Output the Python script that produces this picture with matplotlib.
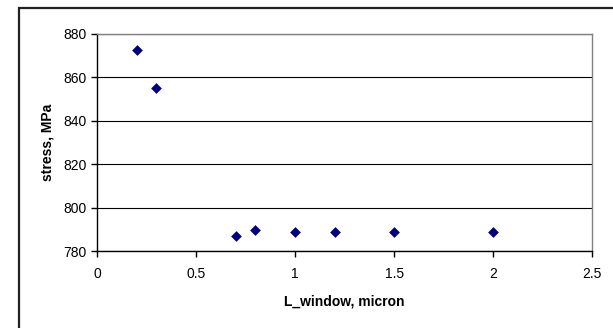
import matplotlib
matplotlib.use("Agg")
import matplotlib.pyplot as plt
from matplotlib.patches import Rectangle

L_window = [0.2, 0.3, 0.7, 0.8, 1.0, 1.2, 1.5, 2.0]
stress = [872.5, 855, 787, 790, 789, 789, 789, 789]
x_ticks = [0, 0.5, 1, 1.5, 2, 2.5]
x_tick_labels = ["0", "0.5", "1", "1.5", "2", "2.5"]
y_ticks = [780, 800, 820, 840, 860, 880]

plt.rcParams['font.family'] = ['Liberation Sans', 'DejaVu Sans']

fig = plt.figure(figsize=(6.13, 3.28), dpi=100)
fig.patches.append(Rectangle((18.5/613, -0.1), 1.2, 1 - 7.5/328 + 0.1, transform=fig.transFigure,
                             fill=False, edgecolor='#222222', linewidth=1.6))
ax = fig.add_axes([97/613, 1 - 251.3/328, (592.3 - 97)/613, (251.3 - 33.7)/328])

ax.scatter(L_window, stress, marker='D', s=30, color='#000080', zorder=3, linewidths=0)
ax.set_xlim(0, 2.5)
ax.set_ylim(780, 880)
ax.set_xticks(x_ticks)
ax.set_xticklabels(x_tick_labels)
ax.set_yticks(y_ticks)
ax.yaxis.grid(True, color='#000000', linewidth=0.8)
ax.set_axisbelow(True)
for s in ['top', 'right']:
    ax.spines[s].set_color('#808080')
    ax.spines[s].set_linewidth(1.0)
for s in ['left', 'bottom']:
    ax.spines[s].set_color('#000000')
    ax.spines[s].set_linewidth(1.0)
ax.tick_params(axis='both', direction='out', length=4, width=1, labelsize=10, colors='black')
ax.tick_params(axis='x', pad=7)
ax.set_xlabel('L_window, micron', fontsize=10, fontweight='bold', labelpad=10)
ax.set_ylabel('stress, MPa', fontsize=10, fontweight='bold', labelpad=6)

fig.savefig('out.png', dpi=100)
